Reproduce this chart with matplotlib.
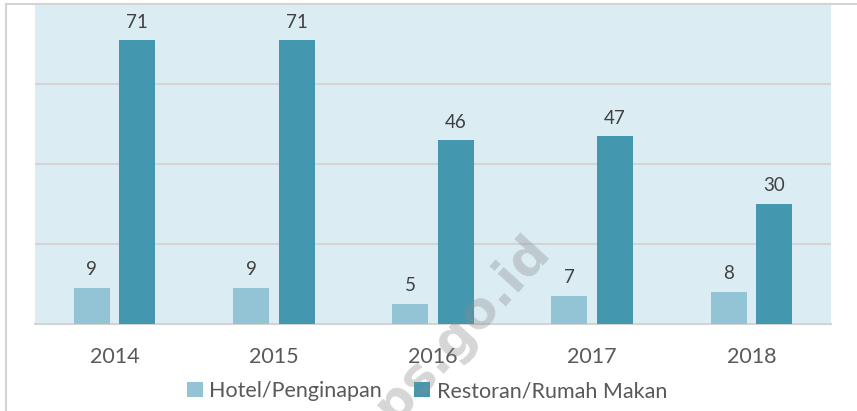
import matplotlib
matplotlib.use("Agg")
import matplotlib.pyplot as plt
import numpy as np
from matplotlib.patches import Patch
from matplotlib.lines import Line2D

years = ["2014", "2015", "2016", "2017", "2018"]
hotel = [9, 9, 5, 7, 8]
restoran = [71, 71, 46, 47, 30]
series_names = ["Hotel/Penginapan", "Restoran/Rumah Makan"]

plt.rcParams['font.family'] = ['Lato', 'DejaVu Sans']

W, H = 857, 411
fig = plt.figure(figsize=(W/100, H/100), dpi=100)
ax = fig.add_axes([35/W, 1-324/H, (831-35)/W, (324-4.5)/H])

c_hotel = "#93C4D6"
c_rest = "#4398B0"
ax.set_facecolor("#DBEDF3")

x = np.arange(len(years))
w = 0.226
off = 0.143
b1 = ax.bar(x - off, hotel, w, color=c_hotel, zorder=3)
b2 = ax.bar(x + off, restoran, w, color=c_rest, zorder=3)

for bars, vals in ((b1, hotel), (b2, restoran)):
    for r, v in zip(bars, vals):
        ax.annotate(str(v), (r.get_x() + r.get_width()/2, r.get_height()),
                    xytext=(0, 7), textcoords="offset points",
                    ha="center", va="bottom", fontsize=13.5, color="#404040")

ax.set_xlim(-0.5, len(years) - 0.5)
ax.set_ylim(0, 80)
ax.set_yticks([20, 40, 60])
ax.yaxis.grid(True, color="#D4D4D4", linewidth=1.5, zorder=0)
ax.set_axisbelow(True)
ax.tick_params(axis='y', left=False, labelleft=False)
ax.set_xticks(x)
ax.set_xticklabels(years, fontsize=15.5, color="#595959")
ax.tick_params(axis='x', bottom=False, pad=13)
for s in ["top", "right", "left"]:
    ax.spines[s].set_visible(False)
ax.spines["bottom"].set_color("#D4D4D4")
ax.spines["bottom"].set_linewidth(1.5)

handles = [Patch(facecolor=c_hotel), Patch(facecolor=c_rest)]
fig.legend(handles, series_names, loc="center", bbox_to_anchor=(427/W, 1-391/H),
           ncol=2, frameon=False, fontsize=15.5, handlelength=0.75, handleheight=0.75,
           handletextpad=0.3, columnspacing=1.5, labelcolor="#595959")

# chart border
fig.add_artist(Line2D([6/W, 1], [1-4/H, 1-4/H], color="#D4D4D4", linewidth=1.5))
fig.add_artist(Line2D([6/W, 6/W], [0, 1-4/H], color="#D4D4D4", linewidth=1.5))

# watermark
fig.text(450/W, 1-342/H, "bps.go.id", rotation=47.5, fontsize=37, fontweight="bold",
         color="#8A8A8A", alpha=0.35, ha="center", va="center",
         family="DejaVu Sans", zorder=10)

fig.savefig("out.png", dpi=100)
